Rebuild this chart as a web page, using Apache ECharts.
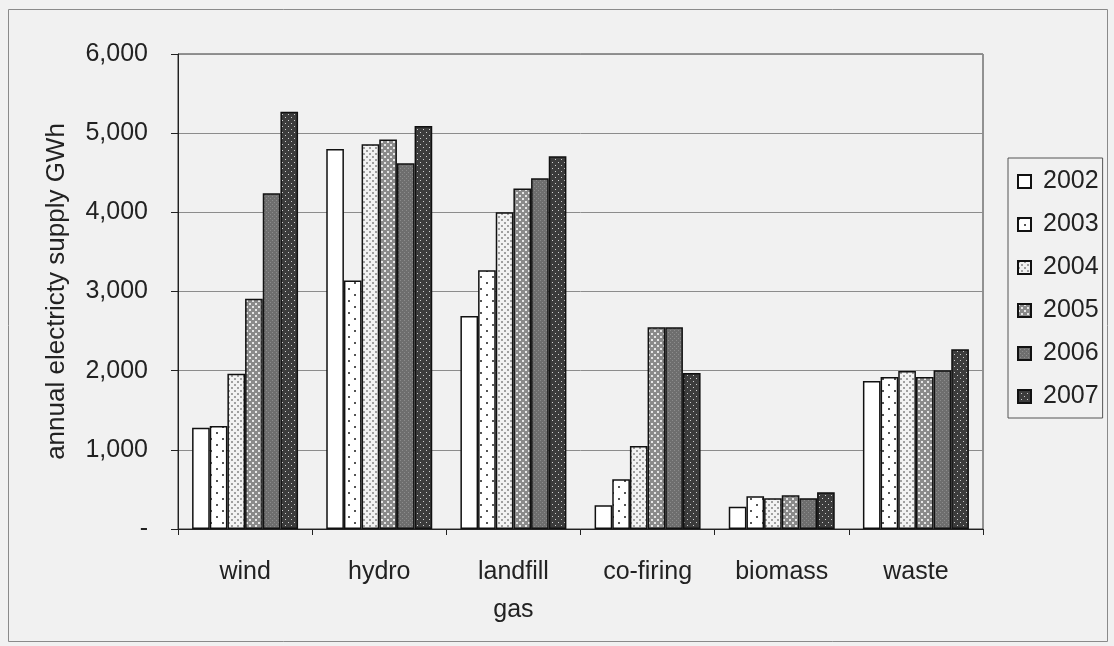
<!DOCTYPE html>
<html>
<head>
<meta charset="utf-8">
<script src="https://cdn.jsdelivr.net/npm/echarts@6/dist/echarts.min.js"></script>
<style>
html,body{margin:0;padding:0;background:#f1f1f1;}
#c{width:1114px;height:646px;}
</style>
</head>
<body>
<div id="c"></div>
<script>
const categories = ['wind', 'hydro', 'landfill\ngas', 'co-firing', 'biomass', 'waste'];
const years = ['2002', '2003', '2004', '2005', '2006', '2007'];
const v2002 = [1280, 4800, 2690, 300, 280, 1870];
const v2003 = [1300, 3140, 3270, 630, 415, 1920];
const v2004 = [1960, 4860, 4000, 1050, 390, 1995];
const v2005 = [2910, 4920, 4300, 2550, 425, 1920];
const v2006 = [4240, 4620, 4430, 2550, 390, 2005];
const v2007 = [5270, 5090, 4710, 1970, 465, 2270];
const seriesValues = [v2002, v2003, v2004, v2005, v2006, v2007];
const yTicks = [0, 1000, 2000, 3000, 4000, 5000, 6000];

function makePattern(bg, dot, step, dsize, stagger) {
  const c = document.createElement('canvas');
  c.width = step * 2; c.height = step * 2;
  const g = c.getContext('2d');
  g.fillStyle = bg; g.fillRect(0, 0, c.width, c.height);
  if (dot) {
    g.fillStyle = dot;
    g.fillRect(0, 0, dsize, dsize);
    if (stagger) g.fillRect(step, step, dsize, dsize);
    else { g.fillRect(step, 0, dsize, dsize); g.fillRect(0, step, dsize, dsize); g.fillRect(step, step, dsize, dsize); }
  }
  return { image: c, repeat: 'repeat' };
}
const fills = [
  '#ffffff',
  makePattern('#ffffff', '#555555', 6, 2, true),
  makePattern('#f2f2f2', '#a0a0a0', 3, 2, true),
  makePattern('#8a8a8a', '#e6e6e6', 3, 2, true),
  makePattern('#6e6e6e', '#8c8c8c', 2, 1, true),
  makePattern('#3c3c3c', '#cfcfcf', 3, 1, true)
];

const chart = echarts.init(document.getElementById('c'), null, {renderer: 'canvas'});
const fontFam = '"Liberation Sans", Arial, sans-serif';
chart.setOption({
  backgroundColor: '#f1f1f1',
  animation: false,
  textStyle: {fontFamily: fontFam},
  graphic: [{
    type: 'rect', shape: {x: 8.5, y: 9.5, width: 1099, height: 632},
    style: {fill: 'none', stroke: '#8a8a8a', lineWidth: 1}, silent: true
  }],
  grid: {
    left: 178, right: 131, top: 54, bottom: 117,
    show: true, borderColor: '#333', borderWidth: 1, backgroundColor: '#f1f1f1'
  },
  legend: {
    orient: 'vertical', left: 1008, top: 158,
    padding: [11, 4, 9, 9], itemGap: 18,
    borderColor: '#555', borderWidth: 1,
    itemWidth: 13, itemHeight: 13, icon: 'rect',
    textStyle: {fontSize: 25, color: '#222', fontFamily: fontFam, padding: [0, 0, 0, 7]},
    data: years
  },
  xAxis: {
    type: 'category', data: categories,
    axisLine: {lineStyle: {color: '#222', width: 1}},
    axisTick: {show: true, length: 6, lineStyle: {color: '#222'}},
    axisLabel: {fontSize: 25, color: '#222', margin: 24, lineHeight: 38, interval: 0, fontFamily: fontFam}
  },
  yAxis: {
    type: 'value', min: 0, max: 6000, interval: 1000,
    name: 'annual electricty supply GWh', nameLocation: 'middle', nameGap: 108,
    nameTextStyle: {fontSize: 26, color: '#222', fontFamily: fontFam},
    axisLine: {show: true, lineStyle: {color: '#222', width: 1}},
    axisTick: {show: true, length: 7, lineStyle: {color: '#222'}},
    axisLabel: {
      fontSize: 25, color: '#222', margin: 30, fontFamily: fontFam,
      formatter: function (v) { return v === 0 ? '-' : v.toLocaleString('en-US'); }
    },
    splitLine: {lineStyle: {color: '#8c8c8c', width: 1}}
  },
  series: years.map(function (y, i) {
    return {
      name: y, type: 'bar', data: seriesValues[i],
      barGap: '0%', barCategoryGap: '21%',
      itemStyle: {color: fills[i], borderColor: '#111', borderWidth: 1.5}
    };
  })
});
</script>
</body>
</html>
